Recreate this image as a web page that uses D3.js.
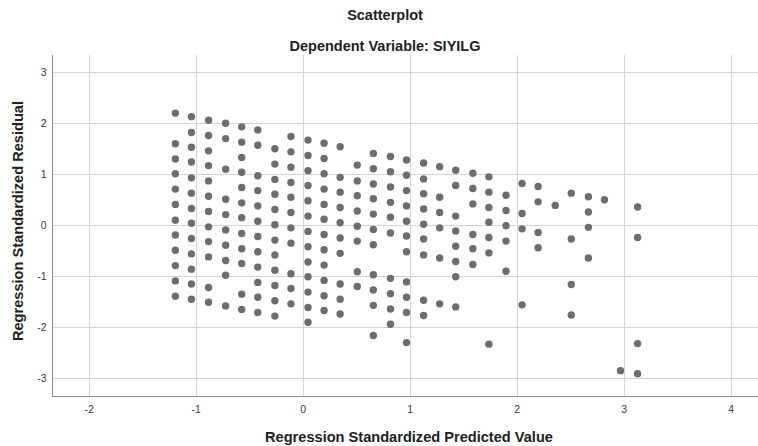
<!DOCTYPE html>
<html>
<head>
<meta charset="utf-8">
<script src="https://cdn.jsdelivr.net/npm/d3@7"></script>
<style>
  html, body { margin: 0; padding: 0; background: #fff; }
  svg { display: block; }
  text { font-family: "Liberation Sans", Arial, sans-serif; }
</style>
</head>
<body>
<svg id="chart" width="758" height="446"></svg>
<script>
// Regression standardized predicted value for each column of points
const predicted = [-1.19, -1.04, -0.88, -0.72, -0.57, -0.42, -0.26, -0.11, 0.05, 0.20,
  0.35, 0.51, 0.66, 0.82, 0.97, 1.13, 1.28, 1.43, 1.59, 1.74,
  1.90, 2.05, 2.20, 2.36, 2.51, 2.67, 2.82, 2.97, 3.13];

// Regression standardized residuals for each column (same order as predicted)
const residuals = [
  [2.20, 1.60, 1.30, 1.01, 0.71, 0.41, 0.10, -0.19, -0.49, -0.79, -1.09, -1.39],
  [2.13, 1.82, 1.53, 1.24, 0.93, 0.63, 0.33, 0.04, -0.26, -0.56, -0.86, -1.15, -1.45],
  [2.06, 1.76, 1.46, 1.17, 0.87, 0.57, 0.27, -0.03, -0.32, -0.62, -1.22, -1.51],
  [2.00, 1.70, 1.10, 0.51, 0.21, -0.09, -0.39, -0.69, -0.98, -1.58],
  [1.93, 1.63, 1.33, 1.04, 0.74, 0.44, 0.15, -0.16, -0.46, -0.75, -1.35, -1.65],
  [1.87, 1.57, 0.97, 0.68, 0.38, 0.08, -0.22, -0.52, -0.82, -1.12, -1.41, -1.71],
  [1.50, 1.20, 0.90, 0.61, 0.31, 0.01, -0.29, -0.58, -0.88, -1.18, -1.48, -1.78],
  [1.74, 1.44, 1.14, 0.84, 0.55, 0.25, -0.05, -0.35, -0.95, -1.24, -1.54],
  [1.67, 1.37, 1.07, 0.78, 0.48, 0.18, -0.12, -0.42, -0.72, -1.01, -1.31, -1.61, -1.90],
  [1.61, 1.31, 1.01, 0.71, 0.41, 0.12, -0.18, -0.48, -0.78, -1.08, -1.38, -1.67],
  [1.54, 0.94, 0.65, 0.35, 0.05, -0.25, -0.55, -1.15, -1.45, -1.74],
  [1.18, 0.87, 0.58, 0.28, -0.02, -0.31, -0.91, -1.20],
  [1.41, 1.11, 0.81, 0.52, 0.22, -0.08, -0.38, -0.97, -1.27, -1.57, -2.16],
  [1.35, 1.05, 0.75, 0.45, 0.16, -0.15, -1.04, -1.34, -1.64, -1.94],
  [1.28, 0.98, 0.68, 0.38, 0.08, -0.21, -0.52, -1.11, -1.41, -1.71, -2.30],
  [1.22, 0.91, 0.62, 0.32, 0.02, -0.27, -0.58, -1.47, -1.77],
  [1.15, 0.55, 0.25, -0.05, -0.64, -1.54],
  [1.08, 0.78, 0.18, -0.11, -0.41, -0.71, -1.01, -1.60],
  [1.02, 0.72, 0.42, -0.18, -0.46, -0.77],
  [0.95, 0.65, 0.35, 0.06, -0.24, -0.54, -2.33],
  [0.59, 0.29, -0.01, -0.31, -0.90],
  [0.82, 0.23, -0.07, -1.56],
  [0.76, 0.46, -0.14, -0.44],
  [0.39],
  [0.63, -0.27, -1.16, -1.76],
  [0.56, 0.26, -0.04, -0.64],
  [0.50],
  [-2.85],
  [0.36, -0.24, -2.32, -2.91]
];

const xTicks = [-2, -1, 0, 1, 2, 3, 4];
const yTicks = [-3, -2, -1, 0, 1, 2, 3];

const titleText = "Scatterplot";
const subtitleText = "Dependent Variable: SIYILG";
const xLabelText = "Regression Standardized Predicted Value";
const yLabelText = "Regression Standardized Residual";

// Build points table
const points = [];
predicted.forEach((p, i) => residuals[i].forEach(r => points.push({ x: p, y: r })));

const svg = d3.select("#chart");
const plotL = 52, plotR = 758, plotT = 55, plotB = 396;

const x = d3.scaleLinear().domain([-2.343, 4.255]).range([plotL, plotR]);
const y = d3.scaleLinear().domain([-3.347, 3.339]).range([plotB, plotT]);

// Gridlines
svg.append("g").selectAll("line").data(xTicks).join("line")
  .attr("x1", d => Math.round(x(d)) + 0.5).attr("x2", d => Math.round(x(d)) + 0.5)
  .attr("y1", plotT).attr("y2", plotB)
  .attr("stroke", "#d4d4d4").attr("stroke-width", 1);
svg.append("g").selectAll("line").data(yTicks).join("line")
  .attr("x1", plotL).attr("x2", plotR)
  .attr("y1", d => Math.round(y(d)) + 0.5).attr("y2", d => Math.round(y(d)) + 0.5)
  .attr("stroke", "#d4d4d4").attr("stroke-width", 1);

// Axes via d3 axis generators (no tick marks, labels only); plain hyphen minus
const fmt = d => String(d);
const xAxis = d3.axisBottom(x).tickValues(xTicks).tickSize(0).tickPadding(9).tickFormat(fmt);
const yAxis = d3.axisLeft(y).tickValues(yTicks).tickSize(0).tickPadding(6).tickFormat(fmt);

const gx = svg.append("g").attr("transform", `translate(0,${plotB + 0.5})`).call(xAxis);
const gy = svg.append("g").attr("transform", `translate(${plotL + 0.5},0)`).call(yAxis);
[gx, gy].forEach(g => {
  g.select(".domain").attr("stroke", "#8c8c8c").attr("stroke-width", 1);
  g.selectAll("text").attr("font-size", 10.5).attr("fill", "#3a3a3a")
    .attr("font-family", "'Liberation Sans', Arial, sans-serif");
});
gx.select(".domain").attr("d", `M${plotL},0H${plotR}`);
gy.select(".domain").attr("d", `M0,${plotT}V${plotB}`);

// Points
svg.append("g").selectAll("circle").data(points).join("circle")
  .attr("cx", d => x(d.x)).attr("cy", d => y(d.y))
  .attr("r", 3.7).attr("fill", "#6d6d6d");

// Titles
svg.append("text").attr("x", 385).attr("y", 20).attr("text-anchor", "middle")
  .attr("font-size", 14.5).attr("font-weight", "bold").attr("fill", "#222").text(titleText);
svg.append("text").attr("x", 385).attr("y", 51).attr("text-anchor", "middle")
  .attr("font-size", 14.5).attr("font-weight", "bold").attr("fill", "#222").text(subtitleText);
svg.append("text").attr("x", 409).attr("y", 442).attr("text-anchor", "middle")
  .attr("font-size", 14.6).attr("font-weight", "bold").attr("fill", "#222").text(xLabelText);
svg.append("text").attr("transform", "translate(23,221) rotate(-90)").attr("text-anchor", "middle")
  .attr("font-size", 14.6).attr("font-weight", "bold").attr("fill", "#222").text(yLabelText);
</script>
</body>
</html>
